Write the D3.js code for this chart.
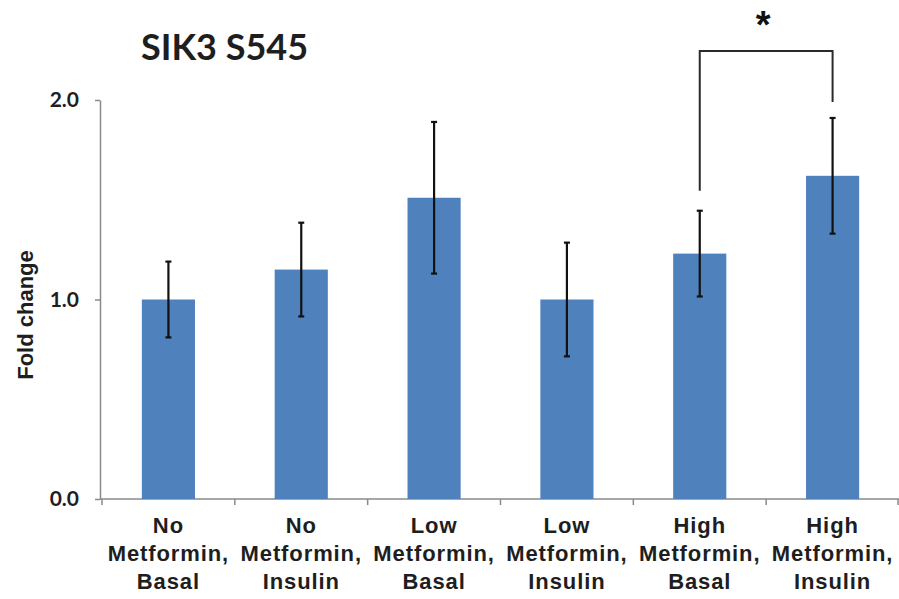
<!DOCTYPE html>
<html>
<head>
<meta charset="utf-8">
<script src="https://cdn.jsdelivr.net/npm/d3@7/dist/d3.min.js"></script>
<style>
  html, body { margin: 0; padding: 0; background: #fff; }
  svg { display: block; }
</style>
</head>
<body>
<svg id="chart" width="899" height="599"></svg>
<script>
// Groups (each label split over three lines)
const categories = [
  ["No", "Metformin,", "Basal"],
  ["No", "Metformin,", "Insulin"],
  ["Low", "Metformin,", "Basal"],
  ["Low", "Metformin,", "Insulin"],
  ["High", "Metformin,", "Basal"],
  ["High", "Metformin,", "Insulin"]
];
// Mean fold change and error (±) per group
const foldChange = [1.00, 1.15, 1.51, 1.00, 1.23, 1.62];
const errors     = [0.19, 0.235, 0.38, 0.285, 0.215, 0.29];
// Y axis ticks
const yTicks = [0.0, 1.0, 2.0];
// Significance bracket: between groups, bar level, and leg ends (fold-change units)
const bracketGroups = [4, 5];
const bracketLevel = 2.245;
const bracketLegEnds = [1.545, 1.99];
const bracketMark = "*";

const svg = d3.select("#chart");
const keys = categories.map((c, i) => i);

const x = d3.scaleBand()
  .domain(keys)
  .range([102, 899])
  .paddingInner(0.6)
  .paddingOuter(0.3);

const y = d3.scaleLinear().domain([0, 2]).range([499, 100]);

const axisColor = "#8a8a8a";
const textColor = "#1e1e1e";
const barColor = "#4f81bd";

// Title
svg.append("text")
  .attr("x", 141).attr("y", 60)
  .attr("font-family", "Lato, 'Open Sans', sans-serif")
  .attr("font-weight", 700)
  .attr("font-size", 36)
  .attr("fill", textColor)
  .text("SIK3 S545");

// Y axis
const yAxis = svg.append("g")
  .attr("transform", "translate(100,0)")
  .call(d3.axisLeft(y).tickValues(yTicks).tickFormat(d3.format(".1f")).tickSize(5).tickSizeOuter(0).tickPadding(16));
yAxis.select(".domain").attr("stroke", axisColor).attr("stroke-width", 1.5);
yAxis.selectAll(".tick line").attr("stroke", axisColor).attr("stroke-width", 1.5);
yAxis.selectAll(".tick text")
  .attr("font-family", "Lato, 'Open Sans', sans-serif")
  .attr("font-weight", 700)
  .attr("font-size", 21)
  .attr("fill", textColor);

// Y axis title
svg.append("text")
  .attr("transform", "translate(33,315) rotate(-90)")
  .attr("text-anchor", "middle")
  .attr("font-family", "'Liberation Sans', Arial, sans-serif")
  .attr("font-weight", 700)
  .attr("font-size", 22)
  .attr("fill", textColor)
  .text("Fold change");

// X axis baseline and group separators
const x0 = x.range()[0], x1 = x.range()[1];
svg.append("line")
  .attr("x1", 100).attr("x2", x1)
  .attr("y1", y(0)).attr("y2", y(0))
  .attr("stroke", axisColor).attr("stroke-width", 1.5);
const bounds = d3.range(categories.length + 1).map(i => x0 + i * x.step());
svg.append("g").selectAll("line")
  .data(bounds)
  .join("line")
  .attr("x1", d => Math.min(d, 898)).attr("x2", d => Math.min(d, 898))
  .attr("y1", y(0)).attr("y2", y(0) + 6)
  .attr("stroke", axisColor).attr("stroke-width", 1.5);

// Bars
svg.append("g").selectAll("rect")
  .data(foldChange)
  .join("rect")
  .attr("x", (d, i) => x(i))
  .attr("width", x.bandwidth())
  .attr("y", d => y(d))
  .attr("height", d => y(0) - y(d))
  .attr("fill", barColor);

// Error bars
const eb = svg.append("g").attr("stroke", "#111").attr("stroke-width", 2.2);
foldChange.forEach((v, i) => {
  const cx = x(i) + x.bandwidth() / 2;
  const e = errors[i];
  eb.append("line").attr("x1", cx).attr("x2", cx).attr("y1", y(v + e)).attr("y2", y(v - e));
  eb.append("line").attr("x1", cx - 3).attr("x2", cx + 3).attr("y1", y(v + e)).attr("y2", y(v + e));
  eb.append("line").attr("x1", cx - 3).attr("x2", cx + 3).attr("y1", y(v - e)).attr("y2", y(v - e));
});

// X labels
const lbl = svg.append("g")
  .attr("font-family", "'Liberation Sans', Arial, sans-serif")
  .attr("font-weight", 700)
  .attr("font-size", 22)
  .attr("letter-spacing", 0.9)
  .attr("fill", textColor)
  .attr("text-anchor", "middle");
categories.forEach((lines, i) => {
  const cx = x(i) + x.bandwidth() / 2;
  lines.forEach((t, j) => {
    lbl.append("text")
      .attr("x", cx)
      .attr("y", 533 + j * 28)
      .text(t);
  });
});

// Significance bracket
const bx = bracketGroups.map(i => x(i) + x.bandwidth() / 2);
svg.append("path")
  .attr("d", d3.line()([
    [bx[0], y(bracketLegEnds[0])],
    [bx[0], y(bracketLevel)],
    [bx[1], y(bracketLevel)],
    [bx[1], y(bracketLegEnds[1])]
  ]))
  .attr("fill", "none")
  .attr("stroke", "#2a2a2a")
  .attr("stroke-width", 2);
svg.append("text")
  .attr("x", (bx[0] + bx[1]) / 2 - 3)
  .attr("y", 38)
  .attr("text-anchor", "middle")
  .attr("font-family", "'Liberation Sans', Arial, sans-serif")
  .attr("font-weight", 700)
  .attr("font-size", 38)
  .attr("fill", "#111")
  .text(bracketMark);
</script>
</body>
</html>
